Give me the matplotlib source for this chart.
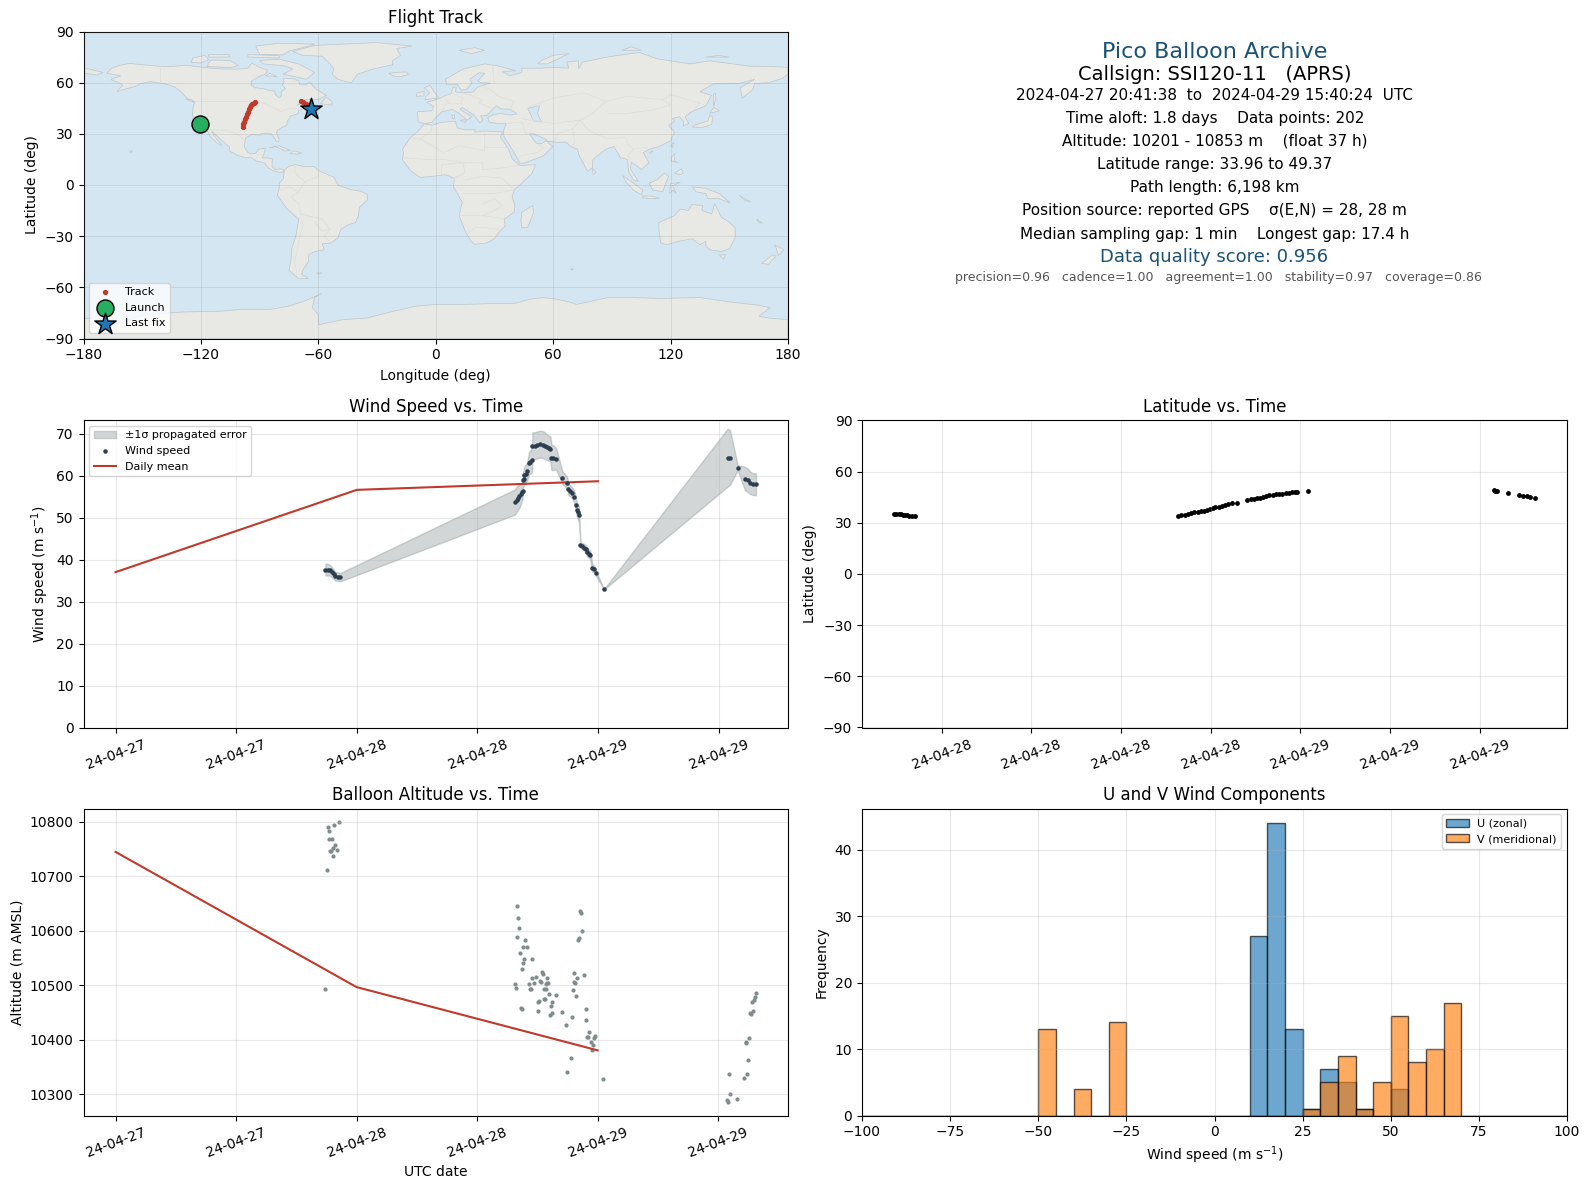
import numpy as np
import matplotlib
matplotlib.use('Agg')
import matplotlib.pyplot as plt
import matplotlib.dates as mdates

# ---- flight data (time = hours after 2024-04-27 00:00 UTC)
wind_h = [20.87, 21.10, 21.30, 21.50, 21.70, 21.86, 22.10, 22.36,
          39.72, 39.89, 40.02, 40.15, 40.28, 40.38, 40.48, 40.50, 40.58, 40.65, 40.78, 40.95,
          41.14, 41.27, 41.44, 41.46, 41.71, 41.94, 42.20, 42.47, 42.70, 42.93, 43.13, 43.26,
          43.36, 43.49, 43.82, 44.45, 44.91, 45.05, 45.24, 45.44, 45.64, 45.81, 45.91, 46.00, 46.10,
          46.24, 46.43, 46.63, 46.77, 46.93, 47.10, 47.20, 47.43, 47.63, 47.79, 48.58,
          60.89, 61.12, 61.88, 62.60, 62.87, 63.10, 63.37, 63.70]
wind_v = [37.6, 37.6, 37.45, 37.05, 36.5, 36.0, 35.95, 35.8,
          53.7, 54.3, 54.7, 55.1, 55.5, 56.0, 56.3, 58.9, 59.3, 60.1, 60.4, 61.1,
          63.1, 63.2, 63.8, 67.1, 67.1, 67.3, 67.5, 67.4, 67.1, 66.7, 66.5, 66.3,
          64.3, 64.3, 64.0, 59.5, 58.3, 56.7, 56.3, 55.8, 54.8, 52.9, 51.7, 51.3, 50.7,
          43.5, 43.25, 42.85, 42.4, 41.7, 41.4, 41.2, 38.0, 37.7, 36.7, 32.9,
          64.3, 64.3, 61.9, 59.3, 58.9, 58.3, 58.0, 57.9]
wind_sigma = [1.4, 1.4, 1.3, 1.2, 1.1, 1.0, 1.0, 1.0,
              3.0, 3.0, 2.9, 2.8, 2.5, 2.2, 2.0, 1.9, 1.9, 2.0, 2.1, 2.2,
              2.7, 2.7, 2.8, 3.2, 3.2, 3.2, 3.2, 3.2, 3.2, 3.0, 3.0, 3.0,
              3.0, 3.0, 2.6, 1.5, 1.4, 1.4, 1.3, 1.3, 1.5, 1.6, 1.8, 1.8, 1.9,
              0.6, 0.7, 0.8, 1.0, 1.0, 1.0, 1.0, 0.9, 0.8, 0.6, 0.05,
              6.9, 6.5, 0.6, 2.8, 2.8, 2.7, 2.6, 2.6]

mean_h = [0, 24, 48]
mean_wind = [37.0, 56.6, 58.65]
mean_alt = [10745, 10497, 10381]

lat_h = [20.82, 20.97, 21.12, 21.27, 21.41, 21.56, 21.71, 21.85, 22.00, 22.24,
         39.81, 40.03, 40.25, 40.47, 40.69, 40.91, 41.14, 41.36, 41.58, 41.77, 41.96, 42.13,
         42.31, 42.53, 42.75, 42.95, 43.14, 43.43, 43.78, 44.46, 44.68, 44.90, 45.11, 45.32,
         45.51, 45.70, 45.92, 46.14, 46.36, 46.58, 46.80, 47.02, 47.24, 47.46, 47.61, 47.76, 48.52,
         60.92, 61.00, 61.16, 61.86, 62.62, 62.92, 63.15, 63.36, 63.69]
lat_deg = [35.3, 35.25, 35.1, 34.9, 34.7, 34.5, 34.3, 34.1, 34.0, 33.97,
           33.96, 34.3, 34.7, 35.2, 35.7, 36.1, 36.5, 36.8, 37.1, 37.5, 38.0, 38.5,
           39.0, 39.5, 40.0, 40.4, 40.8, 41.4, 41.8, 43.5, 43.7, 43.9, 44.3, 44.7,
           45.2, 45.7, 46.1, 46.5, 46.7, 46.9, 47.1, 47.3, 47.5, 47.8, 48.0, 48.2, 48.8,
           49.0, 48.8, 48.4, 47.6, 46.5, 45.9, 45.6, 45.3, 44.7]

alt_h = [20.90, 21.10, 21.20, 21.30, 21.30, 21.60, 21.40, 21.50, 21.70, 21.70, 21.90, 22.09, 21.80, 22.29,
         39.95, 40.05, 40.15, 39.95, 40.74, 40.55, 40.94, 40.25, 40.65, 40.55, 41.44, 40.45, 39.75, 39.85,
         41.14, 41.24, 41.34, 41.44, 41.64, 41.84, 42.23, 42.33, 42.43, 42.53, 42.93, 42.96, 42.83, 43.03,
         42.63, 42.83, 43.13, 43.82, 42.13, 42.03, 42.63, 42.73, 43.42, 43.32, 40.35, 40.45, 42.03, 43.42,
         43.22, 44.42, 45.41, 44.91, 46.90, 46.90, 45.70, 46.00, 45.61, 45.80, 46.70, 45.51, 45.90, 46.30,
         46.40, 46.50, 46.20, 46.10, 47.19, 46.99, 47.09, 47.79, 47.69, 47.39, 47.59, 47.49, 45.31, 45.01, 48.58,
         63.78, 63.68, 63.60, 63.37, 63.47, 63.21, 63.30, 63.07, 62.81, 62.78, 62.97, 62.88, 62.61,
         61.09, 61.19, 61.88, 60.89, 60.99]
alt_m = [10494, 10712, 10791, 10784, 10768, 10769, 10747, 10746, 10738, 10753, 10757, 10749, 10795, 10799,
         10645, 10623, 10606, 10588, 10584, 10570, 10570, 10560, 10548, 10542, 10548, 10531, 10502, 10496,
         10502, 10494, 10494, 10513, 10504, 10516, 10509, 10507, 10524, 10521, 10513, 10505, 10502, 10505,
         10494, 10494, 10485, 10483, 10472, 10469, 10476, 10476, 10469, 10463, 10458, 10456, 10454, 10450,
         10445, 10452, 10443, 10428, 10456, 10436, 10522, 10513, 10507, 10505, 10520, 10491, 10480, 10636,
         10632, 10599, 10587, 10584, 10414, 10405, 10405, 10408, 10403, 10397, 10390, 10381, 10366, 10342, 10329,
         10487, 10479, 10474, 10470, 10454, 10450, 10447, 10404, 10396, 10395, 10364, 10338, 10331,
         10338, 10300, 10291, 10289, 10287]

track_lon = [-120.6, -120.3, -120.0, -98.6, -98.3, -98.0, -97.6, -97.1, -96.6, -96.1, -95.6, -95.0, -94.3, -93.7,
             -93.0, -92.6, -68.8, -67.8, -66.5, -65.5, -64.8, -64.0]
track_lat = [35.3, 34.9, 34.2, 34.0, 35.5, 37.0, 38.5, 40.0, 41.5, 43.0, 44.5, 45.5, 46.7, 47.5,
             48.3, 48.9, 49.0, 48.4, 47.6, 46.5, 45.7, 44.7]
launch_lon, launch_lat = -120.4, 35.5
last_lon, last_lat = -63.8, 44.5

# histogram counts per 5 m/s bin, -100 .. 100
bin_edges = np.arange(-100, 105, 5)
u_counts = [0] * 22 + [27, 44, 13, 1, 7, 5, 1, 0, 4] + [0] * 9
v_counts = [0] * 10 + [13, 0, 4, 0, 14] + [0] * 10 + [1, 5, 9, 1, 5, 15, 8, 10, 17] + [0] * 6

info_lines = [
    ('Pico Balloon Archive', 16, '#1a5276', 1215, 52),
    ('Callsign: SSI120-11   (APRS)', 14, 'black', 1215, 75),
    ('2024-04-27 20:41:38  to  2024-04-29 15:40:24  UTC', 11, 'black', 1214, 95),
    ('Time aloft: 1.8 days    Data points: 202', 11, 'black', 1215, 118.5),
    ('Altitude: 10201 - 10853 m    (float 37 h)', 11, 'black', 1215, 141.5),
    ('Latitude range: 33.96 to 49.37', 11, 'black', 1215, 164.5),
    ('Path length: 6,198 km', 11, 'black', 1215, 187.5),
    ('Position source: reported GPS    σ(E,N) = 28, 28 m', 11, 'black', 1214, 211),
    ('Median sampling gap: 1 min    Longest gap: 17.4 h', 11, 'black', 1215, 234),
    ('Data quality score: 0.956', 13, '#1a5276', 1214, 257.5),
    ('precision=0.96   cadence=1.00   agreement=1.00   stability=0.97   coverage=0.86', 9, '#555555', 1218, 278),
]

# ---- rough coastlines as (lon, lat)
north_america = [(-168, 65.5), (-166, 68.3), (-161, 70.3), (-156.5, 71.3), (-150, 70.5), (-141, 69.6), (-135, 69.5),
                 (-128, 70.2), (-124, 69.7), (-115, 68.5), (-108, 68), (-100, 68), (-96, 68.5), (-94, 71.5), (-90, 69),
                 (-86, 67.5), (-87, 65), (-90, 63.8), (-94, 61), (-94.5, 58.8), (-92.5, 57), (-88, 56.5), (-85, 55.3),
                 (-82.3, 55.1), (-82, 52.9), (-80, 51.2), (-79, 52), (-79, 54.7), (-76.8, 56.5), (-78.3, 58.7),
                 (-77.5, 60.5), (-78, 62.4), (-73.5, 62.4), (-70, 61), (-69.5, 58.8), (-66, 58.8), (-64.5, 60.3),
                 (-61.5, 56.5), (-56, 52.5), (-60, 50.2), (-66, 50.2), (-69, 48.3), (-71, 46.8), (-65, 49), (-64.5, 47.5),
                 (-64, 46), (-60.5, 46.5), (-63.5, 44.7), (-66, 43.7), (-66, 45.2), (-67, 45), (-70, 43.7), (-70.5, 41.8),
                 (-74, 40.5), (-75.5, 38), (-76, 36.8), (-76, 35), (-78.5, 33.8), (-81, 32), (-81.4, 30.5), (-80, 27),
                 (-80.3, 25.3), (-81.5, 25.8), (-82.8, 28), (-84, 30), (-86, 30.4), (-89, 30.2), (-90, 29.2), (-94, 29.6),
                 (-97.2, 27.7), (-97.5, 25), (-97.8, 22.3), (-96, 19), (-94.5, 18.2), (-92, 18.6), (-90.5, 21), (-87, 21.5),
                 (-87.7, 18.5), (-88.7, 15.9), (-86, 15.9), (-83.5, 15.2), (-83.7, 11), (-82, 9), (-79.7, 9.5), (-77.4, 8.7),
                 (-78, 7.5), (-80, 7.4), (-81.5, 8), (-83, 8.3), (-85.5, 10), (-87.5, 13), (-91.5, 14), (-94.5, 16.2),
                 (-97, 15.9), (-101.5, 17.5), (-105.5, 20), (-105.5, 22.5), (-109, 25.8), (-112.5, 29.5), (-114.8, 31.7),
                 (-113, 28.5), (-110, 24.5), (-109.5, 23), (-112, 24.8), (-115, 28), (-116.8, 32), (-118.5, 34),
                 (-120.6, 34.6), (-122.5, 37.5), (-124.3, 40.3), (-124, 46), (-123, 48.8), (-127, 50.8), (-130, 54.5),
                 (-133.5, 57.5), (-138, 59.2), (-146, 60.6), (-151, 59.5), (-153, 58), (-158, 56.5), (-163, 54.8),
                 (-160, 58.5), (-162, 60), (-166, 61.8), (-161, 64), (-168, 65.5)]
south_america = [(-77.4, 8.7), (-75.5, 10.7), (-72, 12), (-68, 11), (-62, 10.7), (-60, 8.5), (-52, 4.5), (-50, 0),
                 (-44, -2.6), (-38, -3.7), (-35, -5.5), (-35, -9), (-39, -13), (-39.5, -18), (-41, -22), (-45, -23.5),
                 (-48.5, -26), (-50, -31), (-53.5, -34), (-58, -34.5), (-57, -38), (-62, -39), (-65, -41), (-65, -45),
                 (-68, -50), (-68.5, -52.5), (-65, -54.7), (-70, -55), (-75, -50), (-74, -44), (-73.5, -37), (-71.5, -30),
                 (-70, -20), (-76, -14), (-81, -6), (-80, -2), (-80, 1), (-78, 3.5), (-77.5, 7), (-77.4, 8.7)]
africa = [(-6, 35.8), (-2, 35), (3, 36.8), (10, 37.3), (11, 33.5), (15, 32.3), (20, 32.5), (20, 31), (25, 31.7), (32, 31.2),
          (34.2, 31.3), (33, 28), (35.5, 24), (37.3, 21), (39, 15.5), (43, 11.5), (51, 11.9), (49, 6.5), (44, 1), (40, -3),
          (39, -7), (40.5, -12), (40, -16), (35, -20), (35.5, -24), (32.8, -27), (30, -31.5), (26, -34), (20, -34.8), (18, -33),
          (15, -27), (12, -18), (13.5, -10), (9, -1), (9.5, 4), (5, 6), (-2, 5), (-8, 4.5), (-13, 8.5), (-17, 14.7), (-16.5, 19),
          (-17, 21), (-13, 27.7), (-9.5, 31), (-6, 35.8)]
eurasia = [(-9, 37), (-9.3, 43), (-2, 43.5), (-1.2, 46), (-4.5, 48.5), (1.5, 50.5), (4, 52), (8, 53.7), (8.5, 57), (10.5, 57.5),
           (10, 54.5), (14, 54), (19, 54.5), (21, 57), (24, 58.5), (28, 59.7), (23, 60), (21.5, 61), (25, 65.5), (22, 65.8),
           (17.5, 62), (18.5, 60), (16, 56.2), (13, 55.5), (11, 59), (5.5, 58.8), (5, 62), (14, 68), (25, 71), (31, 70), (41, 67),
           (34, 66.5), (38, 64), (44, 66), (44, 68.5), (54, 68.5), (60, 69), (68, 68.5), (67, 72), (73, 72.8), (73, 68), (75, 72),
           (81, 73.5), (90, 75.5), (104, 77.7), (113, 74), (130, 71), (140, 72.8), (160, 69.7), (170, 69.5), (180, 69), (180, 65),
           (177, 62.5), (170, 60), (163, 59.5), (162, 56), (156.7, 51), (155.5, 57), (163, 62), (155, 59.5), (142, 59.3), (135, 54.7),
           (141, 52.5), (138, 46.5), (130, 42.5), (127.5, 39.8), (129.3, 36), (126.5, 34.5), (126.5, 37.5), (124.5, 40), (121, 39),
           (122, 37.2), (119, 35), (122, 31), (120, 26), (114, 22.5), (110, 21.3), (106, 19), (109, 13), (105, 9), (103, 11),
           (100, 13.5), (99.5, 9.5), (103.5, 2), (101, 3), (98.5, 8), (98, 15), (94.5, 16), (91, 22.5), (87, 21), (80.3, 15), (80, 10),
           (77.5, 8), (73, 18), (72.5, 21), (69, 22.5), (66.5, 25.2), (61.5, 25), (57, 25.7), (56, 27), (50, 30), (48, 30), (50, 26.5),
           (51.5, 24.5), (54, 24.2), (56.3, 26), (59.8, 22.5), (55, 17), (45, 12.8), (43, 12.8), (39, 21), (35, 28), (34.5, 31.5), (36, 36),
           (32, 36), (27.5, 36.7), (26.5, 39.5), (29, 41), (33, 42), (38, 41), (41.5, 41.7), (38, 44.5), (33.5, 44.5), (31, 46.5), (28, 43),
           (26, 40.7), (23, 40.5), (24, 38), (22.5, 36.5), (19.5, 41), (13.5, 45.5), (12.4, 44.3), (18.4, 40), (16, 38), (12, 42), (8.5, 44.3),
           (3.3, 43), (0, 39.5), (-2, 36.7), (-5.5, 36), (-9, 37)]
australia = [(114, -22), (114, -26), (115, -34), (118, -35), (124, -33), (131, -31.5), (135, -35), (138, -33), (138, -35.5), (140, -38),
             (146, -39), (150, -37.5), (153, -31), (153, -25), (149, -21), (146, -19), (142.5, -11), (141, -17), (136, -15), (136.5, -12),
             (131, -11.5), (129, -15), (125, -14), (122, -18), (114, -22)]
greenland = [(-73, 78.2), (-68, 76), (-58, 75.5), (-54, 71), (-52, 68), (-53, 65), (-50, 62), (-46, 60.6), (-43, 60), (-40, 65), (-32, 68),
             (-22, 70.5), (-22, 73), (-18, 76), (-20, 80), (-12, 81.5), (-30, 83.5), (-50, 82.5), (-62, 81.8), (-68, 80), (-73, 78.2)]
antarctica = [(-180, -78), (-160, -80), (-148, -76), (-130, -74.5), (-110, -74), (-100, -73), (-85, -73), (-75, -71), (-67, -68), (-58, -63.5),
              (-62, -66), (-63, -72), (-60, -76), (-60, -82), (-48, -79), (-35, -78), (-25, -75), (-10, -71), (0, -70), (15, -70), (30, -69.5),
              (40, -69.5), (48, -67), (55, -66), (62, -67), (68, -68.5), (72, -70), (76, -69), (88, -66), (100, -66), (115, -66.5), (135, -66),
              (150, -68.5), (165, -70.5), (171, -72), (165, -77), (170, -78), (180, -79), (180, -90), (-180, -90)]
islands = [
    [(-62, 66), (-66, 62), (-72, 63.5), (-78, 65), (-73, 68), (-78, 70), (-88, 71), (-90, 73), (-80, 73.8), (-70, 71)],
    [(-117, 69.5), (-105, 68.8), (-101, 70), (-105, 73), (-115, 73.3)],
    [(-90, 76.5), (-78, 76.3), (-75, 78.5), (-65, 81.5), (-62, 82.6), (-80, 83.1), (-92, 81.5)],
    [(-125, 72), (-120, 71.5), (-116, 73.5), (-118, 76), (-124, 74.5)],
    [(-96, 75), (-80, 74.5), (-80, 75.8), (-96, 76.5)],
    [(-116, 75), (-105, 75), (-106, 76.5), (-116, 76.5)],
    [(-87, 64), (-81, 63.5), (-85, 65.5)],
    [(-59, 47.7), (-53, 46.8), (-53, 49), (-56, 51.5)],
    [(-85, 21.9), (-80, 23), (-74.2, 20.2), (-77.5, 19.9), (-78, 20.7), (-82, 22.4)],
    [(-74.4, 18.5), (-72.5, 20), (-68.5, 18.7), (-71, 18)],
    [(-156, 19), (-155, 19.6), (-155.8, 20.2)],
    [(-128, 50.5), (-123.5, 48.4), (-125, 50)],
    [(-24, 65.5), (-22, 64), (-18.5, 63.4), (-14, 64.7), (-15, 66.3), (-20, 66)],
    [(-5.5, 50), (1.5, 51.2), (-1, 55), (-3, 58.5), (-6, 57), (-3, 54), (-5, 52)],
    [(-10, 52), (-6, 52.2), (-6, 55), (-9.5, 54)],
    [(131, 34), (136, 33.7), (141, 35.5), (141.5, 40), (140, 41), (139, 37.5), (133, 35.5)],
    [(140, 42), (145, 43.5), (142, 45.5)],
    [(142, 46), (143, 50), (143, 54), (142, 53)],
    [(95.5, 5.5), (100, 2), (105.8, -3), (105, -5.7), (101, -3), (97, 2)],
    [(105.5, -6.5), (110, -6.5), (114.5, -7.7), (110, -8), (106, -7.5)],
    [(109, 1), (113, 3), (117, 7), (119, 5), (117.5, 1), (116, -4), (111, -3)],
    [(119.5, -5), (120, 0.8), (125, 1.5), (121, -0.5), (123, -5), (121, -3)],
    [(131, -1), (138, -2), (145, -5), (150.5, -10.5), (144, -7.7), (139, -8), (138, -5), (133, -4)],
    [(120.3, 16), (122, 18.5), (122, 14), (124, 13), (120.5, 14)],
    [(122, 7), (125.5, 9.5), (126.5, 7), (125, 6)],
    [(120, 23), (121.5, 25), (121, 22)],
    [(109, 19), (111, 20), (110, 18.3)],
    [(80, 9.7), (82, 7.3), (80.5, 6)],
    [(44, -16), (49.5, -12), (50, -16), (47, -25), (44, -25), (43.5, -21)],
    [(145, -41), (148, -41), (147, -43.5)],
    [(166.5, -46), (172, -41), (174, -41.5), (170, -46.5)],
    [(173, -35), (178, -38), (175, -41.3), (174, -37)],
    [(-180, 68.8), (-170, 66), (-173, 64.5), (-180, 65.5)],
    [(12, 79), (18, 77), (25, 79), (20, 80.5)],
    [(52, 71), (57, 71), (68, 77), (60, 76), (54, 73)],
    [(95, 79), (105, 79), (100, 81)],
    [(138, 75), (150, 75), (145, 76)],
    [(12.5, 38), (15.5, 38.2), (15, 36.7)],
    [(8.3, 41), (9.7, 41), (9.5, 39), (8.5, 39)],
    [(164, -20), (167, -22.5), (165, -21.8)],
    [(155, -6), (161, -10), (158, -9)],
    [(69, -49), (70.5, -49.5), (69.5, -49.8)],
    [(-61, -51.5), (-58, -51.5), (-59.5, -52.2)],
]
caspian_sea = [(47, 45), (53, 46.5), (52, 42), (54, 37), (50, 37.5), (49, 40)]
borders = [
    [(-123, 49), (-95, 49), (-88, 48), (-82.5, 45), (-79, 43), (-75, 45), (-71, 45), (-67, 47)],
    [(-141, 69.6), (-141, 60)],
    [(-117, 32.5), (-106.5, 31.8), (-101, 29.5), (-97.5, 26)],
    [(-92, 14.5), (-91, 17.5), (-89, 18)],
    [(-72, 12), (-72, 7), (-67, 2), (-70, -4), (-74, -7), (-70, -11), (-69, -17), (-58, -20), (-54, -26), (-57, -30), (-53.5, -34)],
    [(-60, 8.5), (-60, 5), (-67, 2)],
    [(-80, -3), (-75, -1), (-70, -4)],
    [(-69, -17), (-68, -24), (-70, -33), (-72, -45), (-71, -52)],
    [(-58, -20), (-62, -22), (-58, -27), (-54, -26)],
    [(-2, 35), (-2, 32), (-8, 27), (-13, 27.7)],
    [(-8, 27), (-5, 25), (4, 19), (12, 23), (25, 20), (25, 31.7)],
    [(25, 22), (37, 22)],
    [(-16, 16), (-5, 15), (4, 15), (14, 13), (24, 13), (24, 9), (34, 10), (43, 11.5)],
    [(3, 6), (3, 12), (14, 13), (15, 7), (9.5, 4)],
    [(13.5, -5), (30, -5), (40, -3), (34, 4), (24, 5), (15, 3)],
    [(12, -18), (25, -18), (35, -20)],
    [(16, -29), (20, -25), (25, -25), (32, -26)],
    [(24, -11), (30, -8), (34, -12), (30, -15), (24, -18)],
    [(4, 52), (6, 49), (3, 43)],
    [(8, 53.7), (14, 51), (13, 47.5), (7, 47.5), (6, 49)],
    [(14, 54), (24, 50), (22, 48), (29, 45)],
    [(24, 58), (28, 56), (32, 52), (40, 49), (38, 44.5)],
    [(30, 60), (29, 69.5)],
    [(48, 46), (60, 51), (76, 54), (87, 49), (98, 52), (116, 50), (120, 53), (135, 48), (131, 43)],
    [(87, 49), (80, 42), (74, 38), (70, 33), (62, 30), (61, 25)],
    [(44, 39), (48, 38), (61, 36), (66, 37), (74, 38)],
    [(74, 38), (78, 32), (88, 27), (97, 28), (98, 24), (101, 21), (106, 22), (108, 21.5)],
    [(70, 33), (71, 25), (69, 22.5)],
    [(36, 36), (44, 37), (46, 30), (48, 30)],
    [(88, 42), (98, 42), (111, 44), (120, 47), (116, 50)],
    [(101, 21), (98, 17), (100, 13.5)],
    [(43, 17), (52, 19), (55, 22), (52, 24)],
]

land_color = '#e8e8e4'
coast_color = '#bcc6cc'
ocean_color = '#d4e6f1'
red = '#c0392b'
slate = '#2c3e50'
gray = '#7f8c8d'


def to_time(hours):
    # hours after the first midnight -> datetime64
    t0 = np.datetime64('2024-04-27T00:00:00')
    return t0 + (np.array(hours) * 3600).astype('int64').astype('timedelta64[s]')


def axes_px(x0, y0, x1, y1):
    # axes from pixel box, y counted from the top of the figure
    return fig.add_axes([x0 / W, 1 - y1 / H, (x1 - x0) / W, (y1 - y0) / H])


def style_time_axis(ax, hours):
    ax.xaxis.set_major_locator(mdates.HourLocator(byhour=hours))
    ax.xaxis.set_major_formatter(mdates.DateFormatter('%y-%m-%d'))
    ax.tick_params(axis='x', labelrotation=20)
    ax.grid(True, alpha=0.3)


W, H = 1590, 1189
fig = plt.figure(figsize=(W / 100, H / 100), dpi=100)

ax_map = axes_px(83.5, 31.5, 788, 338.5)
ax_wind = axes_px(83.5, 420.5, 788, 727.5)
ax_lat = axes_px(862, 420.5, 1567, 727.5)
ax_alt = axes_px(83.5, 808.5, 788, 1115.5)
ax_hist = axes_px(862, 808.5, 1567, 1115.5)

# Flight track map
ax_map.set_facecolor(ocean_color)
for poly in [north_america, south_america, africa, eurasia, australia, greenland, antarctica] + islands:
    xs, ys = zip(*poly)
    ax_map.fill(xs, ys, facecolor=land_color, edgecolor=coast_color, linewidth=0.5, zorder=1)
xs, ys = zip(*caspian_sea)
ax_map.fill(xs, ys, facecolor=ocean_color, edgecolor=coast_color, linewidth=0.5, zorder=1)
for line in borders:
    xs, ys = zip(*line)
    ax_map.plot(xs, ys, color='#dcdcd8', linewidth=0.5, zorder=1.5)
ax_map.scatter(track_lon, track_lat, s=8, color=red, zorder=3, label='Track')
ax_map.scatter([launch_lon], [launch_lat], s=150, color='#27ae60', edgecolor='black', zorder=4, label='Launch')
ax_map.scatter([last_lon], [last_lat], s=260, marker='*', color='#1f77b4', edgecolor='black', zorder=5, label='Last fix')
ax_map.set_xlim(-180, 180)
ax_map.set_ylim(-90, 90)
ax_map.set_xticks(np.arange(-180, 181, 60))
ax_map.set_yticks(np.arange(-90, 91, 30))
ax_map.grid(True, color='gray', linestyle='-', linewidth=0.5, alpha=0.25, zorder=2)
ax_map.set_axisbelow(False)
ax_map.set_title('Flight Track', fontsize=12)
ax_map.set_xlabel('Longitude (deg)', labelpad=5)
ax_map.set_ylabel('Latitude (deg)')
ax_map.legend(loc='lower left', fontsize=8)

# Wind speed
v = np.array(wind_v)
s = np.array(wind_sigma)
t_wind = to_time(wind_h)
ax_wind.fill_between(t_wind, v - s, v + s, color=gray, alpha=0.35, label='±1σ propagated error')
ax_wind.scatter(t_wind, v, s=5, color=slate, label='Wind speed', zorder=3)
ax_wind.plot(to_time(mean_h), mean_wind, color=red, linewidth=1.5, label='Daily mean')
ax_wind.set_ylim(bottom=0)
style_time_axis(ax_wind, [0, 12])
ax_wind.set_title('Wind Speed vs. Time', fontsize=12)
ax_wind.set_ylabel('Wind speed (m s$^{-1}$)')
ax_wind.legend(loc='upper left', fontsize=8)

# Latitude
ax_lat.scatter(to_time(lat_h), lat_deg, s=6, color='black')
ax_lat.set_ylim(-90, 90)
ax_lat.set_yticks(np.arange(-90, 91, 30))
style_time_axis(ax_lat, [0, 6, 12, 18])
ax_lat.set_title('Latitude vs. Time', fontsize=12)
ax_lat.set_ylabel('Latitude (deg)')

# Altitude
ax_alt.scatter(to_time(alt_h), alt_m, s=4, color=gray)
ax_alt.plot(to_time(mean_h), mean_alt, color=red, linewidth=1.5)
style_time_axis(ax_alt, [0, 12])
ax_alt.set_title('Balloon Altitude vs. Time', fontsize=12)
ax_alt.set_xlabel('UTC date')
ax_alt.set_ylabel('Altitude (m AMSL)')

# U and V histogram
ax_hist.hist(bin_edges[:-1], bins=bin_edges, weights=u_counts, alpha=0.65, edgecolor='black', label='U (zonal)')
ax_hist.hist(bin_edges[:-1], bins=bin_edges, weights=v_counts, alpha=0.65, edgecolor='black', label='V (meridional)')
ax_hist.set_xlim(-100, 100)
ax_hist.grid(True, alpha=0.3)
ax_hist.set_title('U and V Wind Components', fontsize=12)
ax_hist.set_xlabel('Wind speed (m s$^{-1}$)')
ax_hist.set_ylabel('Frequency')
ax_hist.legend(loc='upper right', fontsize=8)

# Summary text
for text, size, color, x, y in info_lines:
    fig.text(x / W, 1 - y / H, text, fontsize=size, color=color, ha='center', va='center')

fig.savefig('out.png', dpi=100)
